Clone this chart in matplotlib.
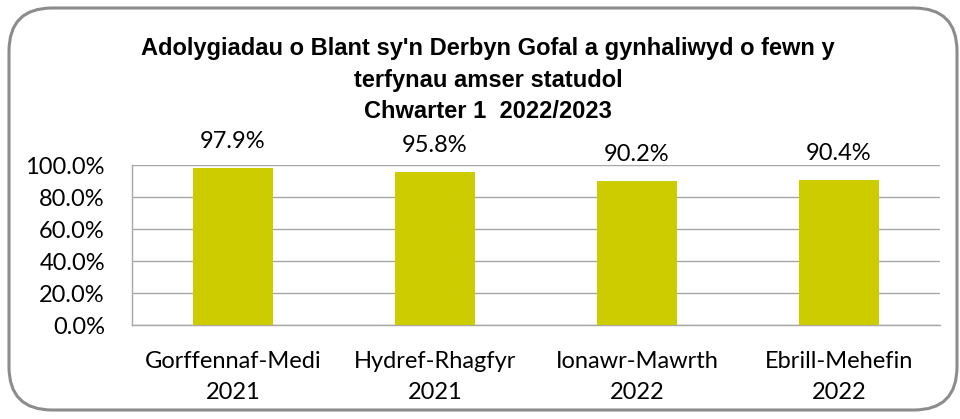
import matplotlib
matplotlib.use("Agg")
import matplotlib.pyplot as plt
from matplotlib.patches import FancyBboxPatch
from matplotlib.ticker import FuncFormatter, MultipleLocator

categories = ["Gorffennaf-Medi\n2021", "Hydref-Rhagfyr\n2021", "Ionawr-Mawrth\n2022", "Ebrill-Mehefin\n2022"]
values = [97.9, 95.8, 90.2, 90.4]
title_lines = ["Adolygiadau o Blant sy'n Derbyn Gofal a gynhaliwyd o fewn y",
               "terfynau amser statudol",
               "Chwarter 1  2022/2023"]

title_font = "Liberation Sans"
body_font = "Lato"

fig = plt.figure(figsize=(9.6, 4.19), dpi=100)
fig.patch.set_facecolor("white")

# rounded border
border = FancyBboxPatch((9 / 960, 9 / 419), 948 / 960, 402 / 419,
                        boxstyle="round,pad=0,rounding_size=0.045",
                        transform=fig.transFigure, facecolor="none",
                        edgecolor="#8c8c8c", linewidth=2.2, mutation_aspect=960 / 419)
fig.patches.append(border)

ax = fig.add_axes([132 / 960, 1 - 325 / 419, (940 - 132) / 960, (325 - 165) / 419])
x = range(len(categories))
bars = ax.bar(x, values, width=0.4, color="#CCCC00", zorder=3)
ax.set_xlim(-0.5, len(categories) - 0.5)
ax.set_ylim(0, 100)
ax.yaxis.set_major_locator(MultipleLocator(20))
ax.yaxis.set_major_formatter(FuncFormatter(lambda v, p: f"{v:.1f}%"))
ax.grid(axis="y", color="#a6a6a6", linewidth=1.0, zorder=0)
for s in ["top", "right"]:
    ax.spines[s].set_visible(False)
for s in ["left", "bottom"]:
    ax.spines[s].set_color("#a6a6a6")
    ax.spines[s].set_linewidth(1.0)
ax.tick_params(axis="both", length=0, labelsize=17, colors="#000000")
ax.tick_params(axis="y", pad=19.5)
ax.tick_params(axis="x", pad=19)
ax.set_xticks(list(x))
ax.set_xticklabels(categories, fontfamily=body_font, linespacing=1.55)
for lab in ax.get_yticklabels():
    lab.set_fontfamily(body_font)

for b, v in zip(bars, values):
    ax.annotate(f"{v:.1f}%", (b.get_x() + b.get_width() / 2, v),
                xytext=(0, 19), textcoords="offset points", ha="center", va="center",
                fontsize=17, fontfamily=body_font)

ys = [48, 80, 111]
for t, yy in zip(title_lines, ys):
    fig.text(488 / 960, 1 - yy / 419, t, ha="center", va="center",
             fontsize=17, fontweight="bold", fontfamily=title_font)

fig.savefig("out.png", dpi=100, facecolor="white")
